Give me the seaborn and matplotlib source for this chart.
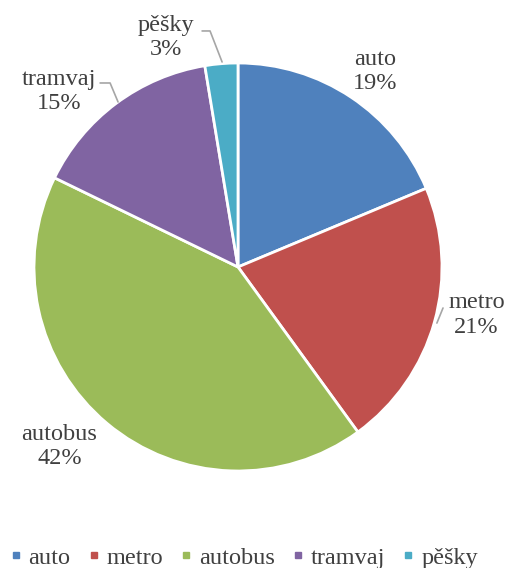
import numpy as np
import matplotlib
matplotlib.use("Agg")
import matplotlib.pyplot as plt
import seaborn as sns
from matplotlib.lines import Line2D

# data (share of trips, %)
categories = ["auto", "metro", "autobus", "tramvaj", "pěšky"]
shares = [18.7, 21.3, 42.2, 15.2, 2.6]
colors = ["#4F81BD", "#C0504D", "#9BBB59", "#8064A2", "#4BACC6"]

sns.set_theme(style="white")
plt.rcParams["font.family"] = ["Liberation Serif", "DejaVu Serif"]
text_color = "#404040"

fig = plt.figure(figsize=(5.06, 5.68), dpi=100)
ax = fig.add_axes([0.0672, 0.1708, 0.8063, 0.7183])

wedges, _ = ax.pie(shares, colors=colors, startangle=90, counterclock=False,
                   radius=1.0, wedgeprops=dict(edgecolor="white", linewidth=2))
ax.set_xlim(-1, 1)
ax.set_ylim(-1, 1)
ax.set_aspect("equal")
ax.axis("off")

# label placement (data coords, pie radius = 1), leader lines
label_pos = {
    "auto": (0.67, 0.96),
    "metro": (1.17, -0.235),
    "autobus": (-0.875, -0.88),
    "tramvaj": (-0.877, 0.86),
    "pěšky": (-0.353, 1.125),
}
leaders = {
    "metro": [(1.005, -0.201), (0.975, -0.275)],
    "tramvaj": [(-0.676, 0.902), (-0.627, 0.902), (-0.588, 0.809)],
    "pěšky": [(-0.176, 1.157), (-0.137, 1.157), (-0.078, 1.005)],
}

total = sum(shares)
for name, val in zip(categories, shares):
    x, y = label_pos[name]
    ax.text(x, y, f"{name}\n{round(val / total * 100):.0f}%", ha="center", va="center",
            fontsize=17.5, color=text_color, linespacing=1.2, clip_on=False)
    if name in leaders:
        pts = np.array(leaders[name])
        ax.plot(pts[:, 0], pts[:, 1], color="#A6A6A6", lw=1.2, clip_on=False)

handles = [Line2D([0], [0], marker="s", linestyle="", markersize=5,
                  markerfacecolor=c, markeredgecolor=c) for c in colors]
fig.legend(handles, categories, loc="lower center", bbox_to_anchor=(0.481, -0.04),
           ncol=5, frameon=False, fontsize=17.5, handletextpad=0.25,
           columnspacing=0.68, handlelength=0.55, labelcolor=text_color)

fig.savefig("out.png", dpi=100, facecolor="white")
